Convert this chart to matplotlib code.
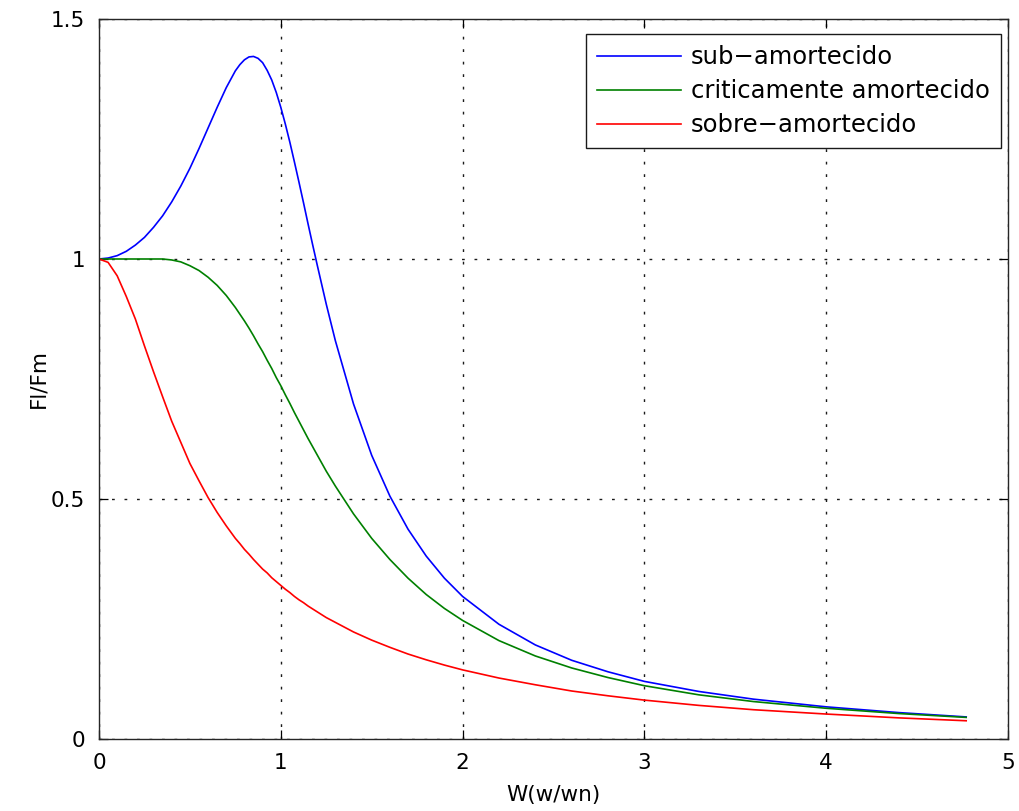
#coding: utf-8
import matplotlib
matplotlib.use("Agg")
import matplotlib.pyplot as plt

# frequency ratio W = w/wn and force ratio Fl/Fm
W = [0, 0.05, 0.1, 0.15, 0.2, 0.25, 0.3, 0.35, 0.4, 0.45,
     0.5, 0.55, 0.6, 0.65, 0.7, 0.75, 0.775, 0.8, 0.825, 0.85,
     0.875, 0.9, 0.925, 0.95, 0.975, 1.0, 1.025, 1.05, 1.075, 1.1,
     1.125, 1.15, 1.175, 1.2, 1.25, 1.3, 1.4, 1.5, 1.6, 1.7,
     1.8, 1.9, 2.0, 2.2, 2.4, 2.6, 2.8, 3.0, 3.3, 3.6,
     4.0, 4.4, 4.77]

sub = [1.000, 1.002, 1.007, 1.016, 1.029, 1.045, 1.066, 1.090, 1.119, 1.152,
       1.189, 1.230, 1.273, 1.316, 1.357, 1.392, 1.405, 1.415, 1.421, 1.422,
       1.418, 1.409, 1.393, 1.373, 1.347, 1.316, 1.281, 1.243, 1.202, 1.160,
       1.117, 1.073, 1.030, 0.988, 0.906, 0.830, 0.698, 0.591, 0.506, 0.437,
       0.381, 0.335, 0.297, 0.239, 0.196, 0.164, 0.140, 0.120, 0.099, 0.083,
       0.067, 0.055, 0.046]

critico = [1.000, 1.000, 1.000, 1.000, 1.000, 1.000, 1.000, 1.000, 0.998, 0.994,
           0.986, 0.976, 0.962, 0.945, 0.924, 0.899, 0.885, 0.871, 0.856, 0.840,
           0.823, 0.807, 0.789, 0.772, 0.753, 0.736, 0.717, 0.699, 0.680, 0.662,
           0.644, 0.626, 0.609, 0.592, 0.558, 0.527, 0.469, 0.418, 0.374, 0.335,
           0.301, 0.272, 0.247, 0.205, 0.173, 0.148, 0.128, 0.111, 0.092, 0.078,
           0.064, 0.053, 0.045]

sobre = [1.000, 0.993, 0.965, 0.922, 0.875, 0.819, 0.765, 0.713, 0.662, 0.618,
         0.574, 0.538, 0.503, 0.472, 0.444, 0.418, 0.407, 0.395, 0.385, 0.374,
         0.364, 0.354, 0.346, 0.336, 0.328, 0.320, 0.312, 0.305, 0.297, 0.290,
         0.284, 0.277, 0.271, 0.265, 0.253, 0.243, 0.223, 0.206, 0.191, 0.177,
         0.165, 0.154, 0.144, 0.127, 0.113, 0.100, 0.090, 0.081, 0.070, 0.061,
         0.052, 0.044, 0.038]

labels = ["sub\u2212amortecido", "criticamente amortecido", "sobre\u2212amortecido"]
xticks = [0, 1, 2, 3, 4, 5]
yticks = [0, 0.5, 1, 1.5]
yticklabels = ["0", "0.5", "1", "1.5"]

plt.rcParams['font.family'] = ['DejaVu Sans']

fig = plt.figure(figsize=(10.19, 8.11), dpi=100)
ax = fig.add_axes([99 / 1019., 1 - 739 / 811., 909 / 1019., 720 / 811.])

ax.plot(W, sub, color="#0000ff", lw=1.2, label=labels[0])
ax.plot(W, critico, color="#008000", lw=1.2, label=labels[1])
ax.plot(W, sobre, color="#ff0000", lw=1.2, label=labels[2])

ax.set_xlim(0, 5)
ax.set_ylim(0, 1.5)
ax.set_xticks(xticks)
ax.set_yticks(yticks)
ax.set_yticklabels(yticklabels)

# matlab style: dotted grid, ticks inside on all sides
ax.grid(True, color="0.1", lw=1.0, linestyle=(0, (2, 7)))
ax.tick_params(direction="in", length=6.5, width=0.9, top=True, right=True,
               labelsize=15.5, pad=10, colors="k")
for s in ax.spines.values():
    s.set_linewidth(1.0)
    s.set_color("0.15")

ax.set_xlabel("W(w/wn)", fontsize=15.5, labelpad=9)
ax.set_ylabel("Fl/Fm", fontsize=15.5, labelpad=2)

leg = ax.legend(loc="upper right", bbox_to_anchor=(0.992, 0.979), borderaxespad=0,
                fontsize=17.5, frameon=True, fancybox=False, handlelength=3.45,
                handletextpad=0.42, labelspacing=0.42, borderpad=0.45)
leg.get_frame().set_edgecolor("0.1")
leg.get_frame().set_linewidth(1.0)
leg.get_frame().set_alpha(1)

fig.savefig("out.png", dpi=100)
